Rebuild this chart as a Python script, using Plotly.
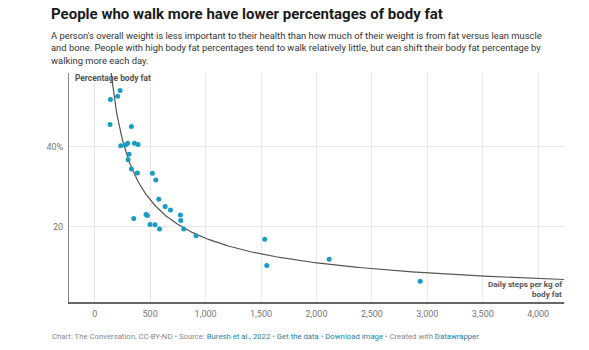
import numpy as np
import plotly.graph_objects as go

# ---- data ----
steps_per_kg_fat = [142, 207, 229, 138, 331, 235, 277, 298, 358, 391, 310, 301, 331, 385,
                    520, 551, 578, 635, 683, 773, 776, 352, 463, 475, 499, 544, 584, 803,
                    914, 1534, 1552, 2115, 2936]
body_fat_pct = [51.75, 52.6, 54.0, 45.5, 45.0, 40.2, 40.4, 40.8, 40.8, 40.5, 38.1, 36.7, 34.4, 33.4,
                33.3, 31.6, 26.8, 25.0, 24.1, 22.9, 21.5, 22.0, 23.0, 22.75, 20.5, 20.4, 19.35, 19.35,
                17.7, 16.8, 10.25, 11.8, 6.3]
x_ticks = [0, 500, 1000, 1500, 2000, 2500, 3000, 3500, 4000]
x_tick_labels = ["0", "500", "1,000", "1,500", "2,000", "2,500", "3,000", "3,500", "4,000"]
y_ticks = [20, 40]
y_tick_labels = ["20", "40%"]

# power-law trend fitted to the points (log-log least squares)
b, ln_a = np.polyfit(np.log(steps_per_kg_fat), np.log(body_fat_pct), 1)
curve_x = np.linspace(100, 4300, 400)
curve_y = np.exp(ln_a) * curve_x ** b

W, H = 589, 350
L, R, T, B = 69, 25, 73, 48
PW, PH = W - L - R, H - T - B


def px(xp):
    return (xp - L) / PW


def py(yp):
    return (H - B - yp) / PH


FONT = "Roboto, 'Open Sans', sans-serif"

fig = go.Figure()
fig.add_trace(go.Scatter(x=curve_x, y=curve_y, mode="lines",
                         line=dict(color="#555555", width=1.2), hoverinfo="skip"))
fig.add_trace(go.Scatter(x=steps_per_kg_fat, y=body_fat_pct, mode="markers",
                         marker=dict(color="#1a9bc2", size=5, line=dict(width=0))))

fig.update_layout(
    width=W, height=H, margin=dict(l=L, r=R, t=T, b=B),
    paper_bgcolor="white", plot_bgcolor="white", showlegend=False,
    font=dict(family=FONT, color="#666666", size=9),
)
fig.update_xaxes(range=[-232, 4233], tickvals=x_ticks, ticktext=x_tick_labels,
                 showgrid=True, gridcolor="#e8e8e8", gridwidth=1, zeroline=False,
                 showline=True, linecolor="#666666", linewidth=1.8,
                 ticks="", ticklabelstandoff=2, tickfont=dict(size=9, color="#777777"))
fig.update_yaxes(range=[1.1, 58.4], tickvals=y_ticks, ticktext=y_tick_labels,
                 showgrid=True, gridcolor="#e8e8e8", gridwidth=1, zeroline=False,
                 showline=True, linecolor="#888888", linewidth=1,
                 ticks="", ticklabelstandoff=3, tickfont=dict(size=9, color="#777777"))

ann = []
ann.append(dict(text="<b>People who walk more have lower percentages of body fat</b>",
                x=px(49), y=py(14), xref="paper", yref="paper", xanchor="left", yanchor="middle",
                showarrow=False, font=dict(family=FONT, size=15, color="#1a1a1a")))
sub_lines = ["A person's overall weight is less important to their health than how much of their weight is from fat versus lean muscle",
             "and bone. People with high body fat percentages tend to walk relatively little, but can shift their body fat percentage by",
             "walking more each day."]
for i, line in enumerate(sub_lines):
    ann.append(dict(text=line, x=px(49), y=py(35.5 + 12.4 * i), xref="paper", yref="paper",
                    xanchor="left", yanchor="middle", showarrow=False,
                    font=dict(family=FONT, size=9.4, color="#333333")))
ann.append(dict(text="<b>Percentage body fat</b>", x=px(73), y=py(77.5), xref="paper", yref="paper",
                xanchor="left", yanchor="middle", showarrow=False,
                font=dict(family=FONT, size=8.4, color="#555555")))
for i, line in enumerate(["Daily steps per kg of", "body fat"]):
    ann.append(dict(text="<b>" + line + "</b>", x=px(564), y=py(284 + 10.3 * i), xref="paper", yref="paper",
                    xanchor="right", yanchor="middle", showarrow=False,
                    font=dict(family=FONT, size=8.1, color="#555555")))
blue = "#1d81a2"
footer = ("Chart: The Conversation, CC-BY-ND • Source: "
          f"<span style='color:{blue}'>Buresh et al., 2022</span> • "
          f"<span style='color:{blue}'>Get the data</span> • "
          f"<span style='color:{blue}'>Download image</span> • Created with "
          f"<span style='color:{blue}'>Datawrapper</span>")
ann.append(dict(text=footer, x=px(50), y=py(336), xref="paper", yref="paper",
                xanchor="left", yanchor="middle", showarrow=False,
                font=dict(family=FONT, size=7.75, color="#888888")))
fig.update_layout(annotations=ann)

fig.write_html("out.html")
